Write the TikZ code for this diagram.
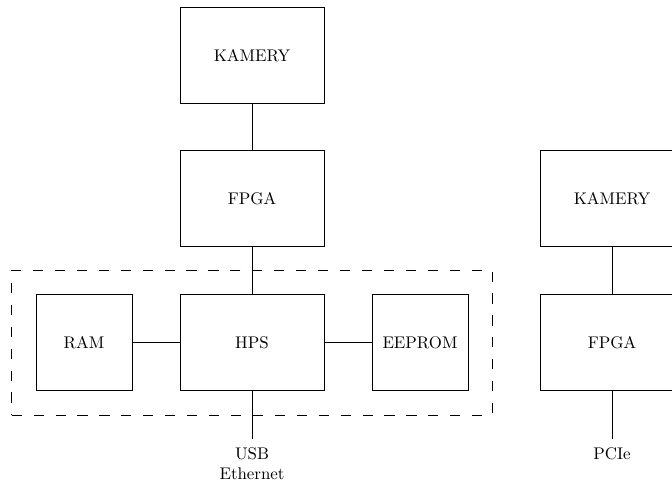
\documentclass[tikz,border=0pt]{standalone}
\usetikzlibrary{fit}
\begin{document}
\begin{tikzpicture}[
  blockbig/.style={draw, minimum width=3cm, minimum height=2cm, inner sep=0pt},
  blocksmall/.style={draw, minimum width=2cm, minimum height=2cm, inner sep=0pt},
  link/.style={draw},
  groupframe/.style={draw, dash pattern=on 6pt off 7pt, inner sep=0.5cm},
  portlabel/.style={align=center, anchor=north, inner sep=3.33pt, yshift=-1.5pt}
]
\useasboundingbox (0,0) rectangle (14,10.02);
\clip (0,0) rectangle (14,10.02);

% main system column
\node[blockbig] (cam1) at (5.25,8.86) {KAMERY};
\node[blockbig] (fpga1) at (5.25,5.88) {FPGA};
\node[blockbig] (hps) at (5.25,2.88) {HPS};
\node[blocksmall] (ram) at (1.75,2.88) {RAM};
\node[blocksmall] (eeprom) at (8.75,2.88) {EEPROM};
\node[groupframe, fit=(ram)(hps)(eeprom)] (soc) {};

\draw[link] (cam1) -- (fpga1);
\draw[link] (fpga1) -- (hps);
\draw[link] (ram) -- (hps);
\draw[link] (hps) -- (eeprom);
\coordinate (hpsout) at ([yshift=-1cm]hps.south);
\draw[link] (hps) -- (hpsout);
\node[portlabel] (hpsports) at (hpsout) {USB\\Ethernet};

% second column
\node[blockbig] (cam2) at (12.75,5.88) {KAMERY};
\node[blockbig] (fpga2) at (12.75,2.88) {FPGA};
\draw[link] (cam2) -- (fpga2);
\coordinate (fpgaout) at ([yshift=-1cm]fpga2.south);
\draw[link] (fpga2) -- (fpgaout);
\node[portlabel] (pcie) at (fpgaout) {PCIe};
\end{tikzpicture}
\end{document}
